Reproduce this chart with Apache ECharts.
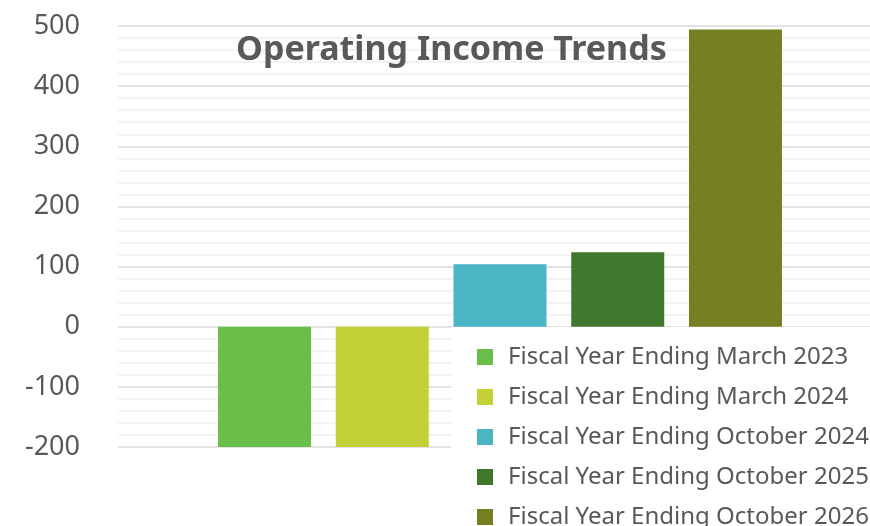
<!DOCTYPE html>
<html>
<head>
<meta charset="utf-8">
<script src="https://cdn.jsdelivr.net/npm/echarts@6/dist/echarts.min.js"></script>
<style>
  html, body { margin: 0; padding: 0; background: #fff; }
  #chart { width: 870px; height: 526px; }
</style>
</head>
<body>
<div id="chart"></div>
<script>
// data
const seriesNames = [
  'Fiscal Year Ending March 2023',
  'Fiscal Year Ending March 2024',
  'Fiscal Year Ending October 2024',
  'Fiscal Year Ending October 2025',
  'Fiscal Year Ending October 2026'
]
const values = [-204, -204, 104, 124, 494]
const colors = ['#6abf4b', '#c3d037', '#4ab5c5', '#3e772d', '#767f21']
const categories = ['']
const yMin = -200
const yMax = 500
const yStep = 100

const chart = echarts.init(document.getElementById('chart'))

const series = seriesNames.map((name, i) => ({
  name,
  type: 'bar',
  data: [values[i]],
  barWidth: 93,
  barGap: '26.6%',
  itemStyle: { color: colors[i] }
}))

chart.setOption({
  animation: false,
  color: colors,
  title: {
    text: 'Operating Income Trends',
    left: 236,
    top: 31,
    textStyle: { fontFamily: 'Noto Sans', fontWeight: 'bold', fontSize: 34, color: '#595959', lineHeight: 38 },
    padding: 0
  },
  // legend sits on a white box over the lower right of the plot, cut off at the bottom
  legend: {
    orient: 'vertical',
    left: 451,
    top: 327,
    height: 240,
    padding: [18, 4, 0, 26],
    backgroundColor: '#fff',
    icon: 'rect',
    itemWidth: 16,
    itemHeight: 16,
    itemGap: 16,
    textStyle: { fontFamily: 'Noto Sans', fontSize: 24, color: '#595959', padding: [0, 0, 0, 10] },
    data: seriesNames
  },
  // plot runs past the right edge of the picture
  grid: { left: 118, right: -12, top: 26, bottom: 79, outerBoundsMode: 'none' },
  xAxis: {
    type: 'category',
    data: categories,
    axisLine: { show: false },
    axisTick: { show: false },
    axisLabel: { show: false }
  },
  yAxis: {
    type: 'value',
    min: yMin,
    max: yMax,
    interval: yStep,
    axisLine: { show: false },
    axisTick: { show: false },
    axisLabel: { fontFamily: 'Noto Sans', fontSize: 27, color: '#595959', margin: 38 },
    splitLine: { lineStyle: { color: '#d9d9d9', width: 1.5 } },
    minorTick: { show: false, splitNumber: 5 },
    minorSplitLine: { show: true, lineStyle: { color: '#efefef', width: 1.5 } }
  },
  series
})
</script>
</body>
</html>
